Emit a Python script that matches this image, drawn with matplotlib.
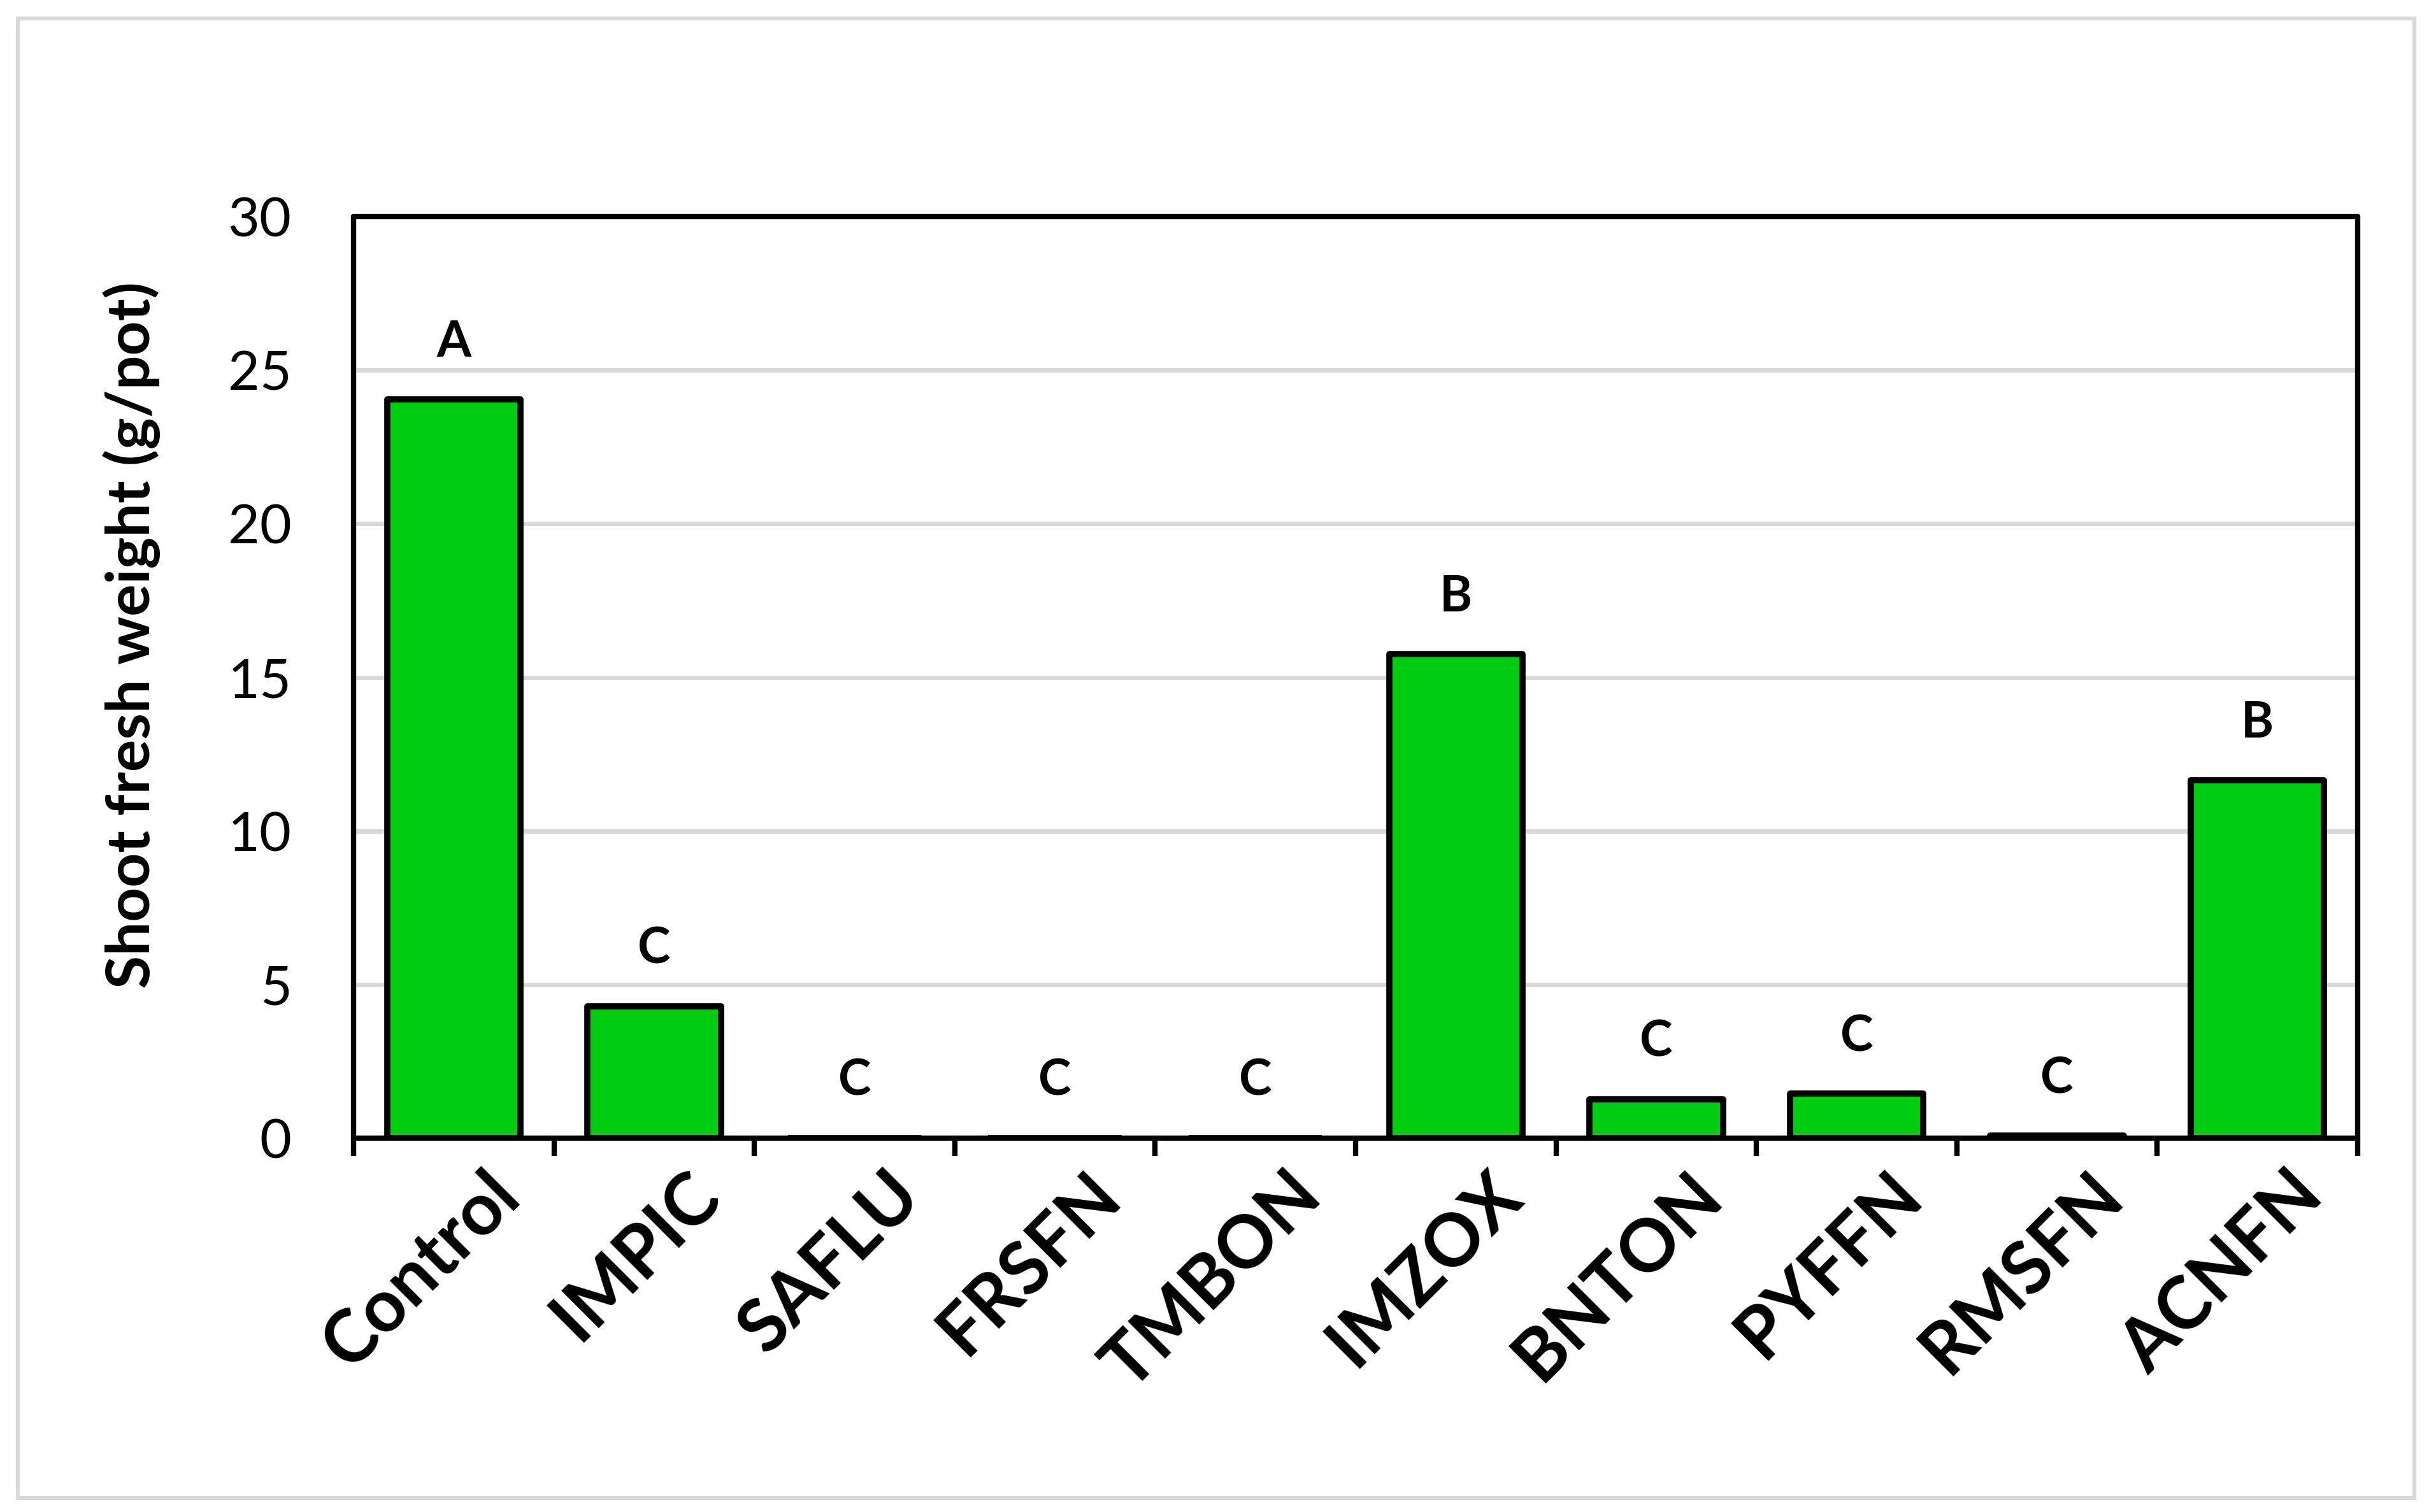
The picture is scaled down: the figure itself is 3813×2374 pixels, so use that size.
import matplotlib
matplotlib.use("Agg")
import matplotlib.pyplot as plt
import matplotlib.transforms as mtransforms
from matplotlib.patches import Rectangle

categories = ["Control", "IMPIC", "SAFLU", "FRSFN", "TMBON", "IMZOX", "BNTON", "PYFFN", "RMSFN", "ACNFN"]
values = [24.05, 4.3, 0.0, 0.0, 0.0, 15.75, 1.27, 1.45, 0.08, 11.65]
letters = ["A", "C", "C", "C", "C", "B", "C", "C", "C", "B"]
yticks = [0, 5, 10, 15, 20, 25, 30]
ylabel = "Shoot fresh weight (g/pot)"

W, H, DPI = 3813, 2374, 100
fig = plt.figure(figsize=(W / DPI, H / DPI), dpi=DPI)
fig.patch.set_facecolor("white")
plt.rcParams["font.family"] = ["Lato", "DejaVu Sans"]

# outer light-gray frame
fig.patches.append(Rectangle((28 / W, 1 - 2352 / H), (3790 - 28) / W, (2352 - 29) / H,
                             transform=fig.transFigure, fill=False,
                             edgecolor="#d9d9d9", linewidth=4.5, zorder=0))

left, right, top, bottom = 555, 3701, 340, 1787
ax = fig.add_axes([left / W, 1 - bottom / H, (right - left) / W, (bottom - top) / H])

x = list(range(len(categories)))
ax.bar(x, values, width=0.665, color="#00cc11", edgecolor="black", linewidth=7,
       joinstyle="round", zorder=3)

for xi, v, t in zip(x, values, letters):
    ax.text(xi, v + 1.1, t, ha="center", va="bottom", fontsize=56, fontweight="bold",
            color="black", zorder=4)

ax.set_xlim(-0.5, len(categories) - 0.5)
ax.set_ylim(0, 30)
ax.set_yticks(yticks)
ax.set_yticklabels([str(t) for t in yticks], fontsize=62)
ax.tick_params(axis="y", length=0, pad=70)
ax.yaxis.grid(True, color="#d9d9d9", linewidth=5, zorder=0)
ax.set_axisbelow(True)

ax.set_xticks(x)
ax.set_xticks([i - 0.5 for i in range(len(categories) + 1)], minor=True)
ax.tick_params(axis="x", which="major", length=0)
ax.tick_params(axis="x", which="minor", length=20, width=6, direction="out", color="black")
offset = mtransforms.ScaledTranslation(0.48, -0.30, fig.dpi_scale_trans)
ax.set_xticklabels(categories, rotation=45, ha="right", va="top", rotation_mode="anchor",
                   fontsize=82, fontweight="bold")
for lab in ax.get_xticklabels():
    lab.set_transform(lab.get_transform() + offset)

for s in ax.spines.values():
    s.set_linewidth(6)
    s.set_color("black")
    s.set_capstyle("round")

fig.text(207 / W, 1 - 997 / H, ylabel, rotation=90, ha="center", va="center",
         fontsize=68, fontweight="bold")

fig.savefig("out.png", dpi=DPI, facecolor="white")
